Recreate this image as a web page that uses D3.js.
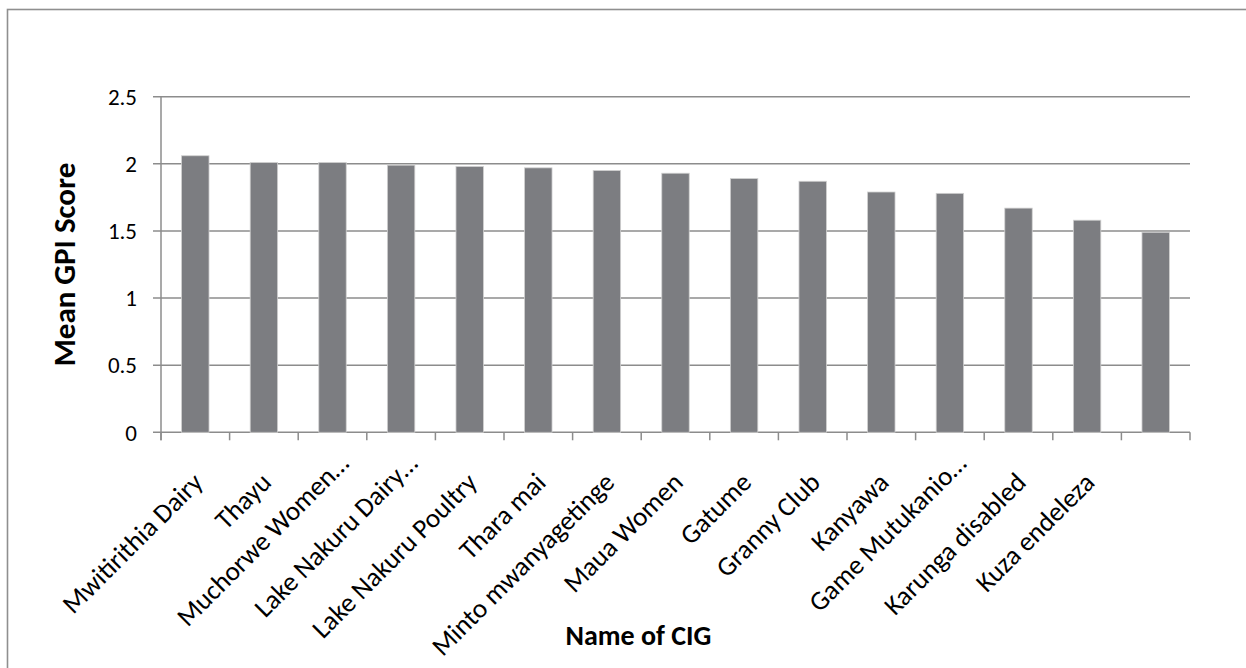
<!DOCTYPE html>
<html>
<head>
<meta charset="utf-8">
<script src="https://cdn.jsdelivr.net/npm/d3@7"></script>
<style>
  html, body { margin: 0; padding: 0; background: #fff; }
  svg { display: block; }
  .lbl { font-family: Carlito, Lato, "Open Sans", sans-serif; fill: #000; }
</style>
</head>
<body>
<svg id="chart" width="1246" height="668"></svg>
<script>
// Mean GPI score per common interest group (CIG)
const categories = [
  "Mwitirithia Dairy", "Thayu", "Muchorwe Women…", "Lake Nakuru Dairy…",
  "Lake Nakuru Poultry", "Thara mai", "Minto mwanyagetinge", "Maua Women",
  "Gatume", "Granny Club", "Kanyawa", "Game Mutukanio…", "Karunga disabled",
  "Kuza endeleza", ""
];
const meanScores = [2.06, 2.01, 2.01, 1.99, 1.98, 1.97, 1.95, 1.93, 1.89, 1.87, 1.79, 1.78, 1.67, 1.58, 1.49];
const yTicks = [0, 0.5, 1, 1.5, 2, 2.5];
const yTitle = "Mean GPI Score";
const xTitle = "Name of CIG";

const svg = d3.select("#chart");
const W = 1246, H = 668;
const plot = { left: 161, right: 1190, top: 96.7, bottom: 432.3 };
const gridColor = "#8c8c8c";
const barColor = "#7c7d81";

// outer chart frame (runs past the right and bottom edges)
svg.append("rect")
  .attr("x", 7.5).attr("y", 9.5)
  .attr("width", W).attr("height", H)
  .attr("fill", "none").attr("stroke", "#8f8f8f").attr("stroke-width", 1.6);

const x = d3.scaleBand()
  .domain(d3.range(categories.length))
  .range([plot.left, plot.right])
  .paddingInner(0.6).paddingOuter(0.3);

const y = d3.scaleLinear().domain([0, 2.5]).range([plot.bottom, plot.top]);

// horizontal gridlines with short outward tick stubs
svg.append("g").selectAll("line")
  .data(yTicks)
  .join("line")
  .attr("x1", plot.left - 8).attr("x2", plot.right)
  .attr("y1", d => y(d)).attr("y2", d => y(d))
  .attr("stroke", gridColor).attr("stroke-width", 1.5);

// bars
svg.append("g").selectAll("rect")
  .data(meanScores)
  .join("rect")
  .attr("x", (d, i) => x(i))
  .attr("y", d => y(d))
  .attr("width", x.bandwidth())
  .attr("height", d => y(0) - y(d))
  .attr("fill", barColor)
  .attr("stroke", "#d0d0d0").attr("stroke-width", 0.8);

// vertical axis line
svg.append("line")
  .attr("x1", plot.left).attr("x2", plot.left)
  .attr("y1", plot.top).attr("y2", plot.bottom + 8)
  .attr("stroke", gridColor).attr("stroke-width", 1.5);

// category boundary ticks below the axis
const step = (plot.right - plot.left) / categories.length;
svg.append("g").selectAll("line")
  .data(d3.range(categories.length + 1))
  .join("line")
  .attr("x1", i => plot.left + i * step).attr("x2", i => plot.left + i * step)
  .attr("y1", plot.bottom).attr("y2", plot.bottom + 8)
  .attr("stroke", gridColor).attr("stroke-width", 1.5);

// y tick labels
svg.append("g").selectAll("text")
  .data(yTicks)
  .join("text")
  .attr("class", "lbl")
  .attr("x", 137).attr("y", d => y(d))
  .attr("dy", "0.36em")
  .attr("text-anchor", "end")
  .style("font-size", "23px")
  .text(d => d3.format("")(d));

// rotated category labels; truncated names sit a little further along the slope
svg.append("g").selectAll("text")
  .data(categories)
  .join("text")
  .attr("class", "lbl")
  .attr("text-anchor", "end")
  .attr("transform", (d, i) => {
    const cx = x(i) + x.bandwidth() / 2;
    const cut = d.endsWith("…");
    return `translate(${cx + (cut ? 18 : 9)},${cut ? 465 : 484}) rotate(-45)`;
  })
  .style("font-size", "27px")
  .text(d => d);

// axis titles
svg.append("text")
  .attr("class", "lbl")
  .attr("transform", `translate(75,${(plot.top + plot.bottom) / 2}) rotate(-90)`)
  .attr("text-anchor", "middle")
  .style("font-size", "31px").style("font-weight", "bold")
  .text(yTitle);

svg.append("text")
  .attr("class", "lbl")
  .attr("x", 638.5).attr("y", 645)
  .attr("text-anchor", "middle")
  .style("font-size", "28px").style("font-weight", "bold")
  .text(xTitle);
</script>
</body>
</html>
